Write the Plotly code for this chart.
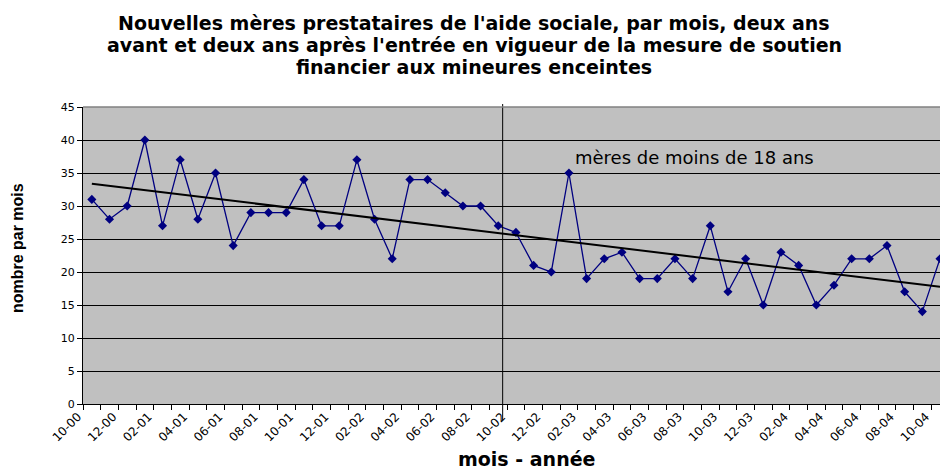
import numpy as np
import plotly.graph_objects as go

months = [
    "10-00", "11-00", "12-00",
    "01-01", "02-01", "03-01", "04-01", "05-01", "06-01", "07-01", "08-01", "09-01", "10-01", "11-01", "12-01",
    "01-02", "02-02", "03-02", "04-02", "05-02", "06-02", "07-02", "08-02", "09-02", "10-02", "11-02", "12-02",
    "01-03", "02-03", "03-03", "04-03", "05-03", "06-03", "07-03", "08-03", "09-03", "10-03", "11-03", "12-03",
    "01-04", "02-04", "03-04", "04-04", "05-04", "06-04", "07-04", "08-04", "09-04", "10-04",
]
values = [
    31, 28, 30,
    40, 27, 37, 28, 35, 24, 29, 29, 29, 34, 27, 27,
    37, 28, 22, 34, 34, 32, 30, 30, 27, 26, 21, 20,
    35, 19, 22, 23, 19, 19, 22, 19, 27, 17, 22, 15,
    23, 21, 15, 18, 22, 22, 24, 17, 14, 22,
]
tick_text = [m if i % 2 == 0 else "" for i, m in enumerate(months)]
title_lines = [
    "Nouvelles mères prestataires de l'aide sociale, par mois, deux ans",
    "avant et deux ans après l'entrée en vigueur de la mesure de soutien",
    "financier aux mineures enceintes",
]

# linear trend (Excel-style trendline)
idx = np.arange(len(values))
slope, intercept = np.polyfit(idx, values, 1)
trend = (slope * idx + intercept).tolist()

NAVY = "#000080"
FONT = "DejaVu Sans"

fig = go.Figure()
fig.add_trace(go.Scatter(
    x=months, y=values, mode="lines+markers",
    line=dict(color=NAVY, width=1.3),
    marker=dict(symbol="diamond", size=7, color=NAVY),
    showlegend=False, hoverinfo="x+y",
))
fig.add_trace(go.Scatter(
    x=months, y=trend, mode="lines",
    line=dict(color="black", width=2),
    showlegend=False, hoverinfo="skip",
))

# event marker: between 09-02 and 10-02
fig.add_shape(type="line", xref="x", yref="paper",
              x0=23.25, x1=23.25, y0=-0.055, y1=1.01,
              line=dict(color="black", width=1))
# top border of plot area
fig.add_shape(type="line", xref="paper", yref="paper",
              x0=0, x1=1, y0=1, y1=1, line=dict(color="#808080", width=1.5))

# title, one annotation per line (pixel centers 23, 44, 66; plot spans y 107..404)
title_x = (474 - 83) / 857
for line, ypix in zip(title_lines, [23, 45, 67]):
    fig.add_annotation(text=line, xref="paper", yref="paper",
                       x=title_x, y=(404 - ypix) / 297, showarrow=False,
                       font=dict(family=FONT, size=19, color="black", weight="bold"),
                       xanchor="center", yanchor="middle")

fig.add_annotation(text="mères de moins de 18 ans", x=34.1, y=37.3, xref="x", yref="y",
                   showarrow=False, font=dict(family=FONT, size=18, color="black"),
                   xanchor="center", yanchor="middle")
fig.add_annotation(text="nombre par mois", xref="paper", yref="paper",
                   x=-0.077, y=0.525, textangle=-90, showarrow=False,
                   font=dict(family="Liberation Sans", size=16, color="black", weight="bold"),
                   xanchor="center", yanchor="middle")
fig.add_annotation(text="mois - année", xref="paper", yref="paper",
                   x=0.518, y=-0.185, showarrow=False,
                   font=dict(family=FONT, size=19, color="black", weight="bold"),
                   xanchor="center", yanchor="middle")

fig.update_layout(
    width=940, height=473,
    margin=dict(l=83, r=0, t=107, b=69),
    paper_bgcolor="white", plot_bgcolor="#C0C0C0",
    xaxis=dict(
        type="category", range=[-0.5, 48.0],
        tickmode="array", tickvals=months, ticktext=tick_text,
        tickson="boundaries", ticks="outside", ticklen=5, tickcolor="black",
        tickangle=-45, tickfont=dict(family=FONT, size=12, color="black"),
        ticklabelshift=-14,
        showline=True, linecolor="black", linewidth=1,
        showgrid=False, zeroline=False, fixedrange=True,
    ),
    yaxis=dict(
        range=[0, 45], dtick=5, tick0=0,
        ticks="outside", ticklen=5, tickcolor="black",
        tickfont=dict(family=FONT, size=11, color="black"),
        showline=True, linecolor="black", linewidth=1,
        showgrid=True, gridcolor="black", gridwidth=1,
        zeroline=False, fixedrange=True,
    ),
)

fig.write_html(
    "out.html",
    config={"displayModeBar": False},
    post_script="document.body.style.margin='0';document.body.style.overflow='hidden';",
)
